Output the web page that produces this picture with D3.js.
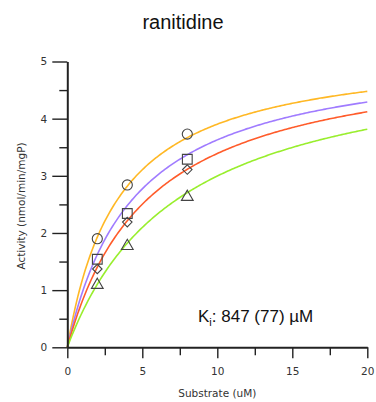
<!DOCTYPE html>
<html>
<head>
<meta charset="utf-8">
<script src="https://cdn.jsdelivr.net/npm/d3@7"></script>
<style>
  html, body { margin: 0; padding: 0; background: #fff; }
  svg { display: block; }
</style>
</head>
<body>
<svg id="chart" width="376" height="402"></svg>
<script>
// Substrate concentrations of the measured points (uM)
const substrate = [2, 4, 8];
// Measured activities, one array per inhibitor level (nmol/min/mgP)
const actCircle  = [1.90, 2.84, 3.73];
const actSquare  = [1.54, 2.34, 3.29];
const actDiamond = [1.37, 2.19, 3.11];
const actTriangle = [1.09, 1.77, 2.63];
// Competitive-inhibition fit
const vmax = 5.25;
const km = 3.45;
const ki = 847;
const ki_se = 77;
const inhibitor = [0, 250, 500, 1000];
const curveColors = ["#ffb825", "#a07cff", "#ff5c2b", "#99ee2e"];
const xTicks = [0, 5, 10, 15, 20];
const yTicks = [0, 1, 2, 3, 4, 5];

const svg = d3.select("#chart");
const x = d3.scaleLinear().domain([0, 20]).range([67.3, 367.3]);
const y = d3.scaleLinear().domain([0, 5]).range([347.3, 61.5]);

// Fitted curves
const sGrid = d3.range(0, 20.0001, 0.1);
const line = d3.line().x(d => x(d[0])).y(d => y(d[1]));
inhibitor.forEach((I, i) => {
  const kapp = km * (1 + I / ki);
  svg.append("path")
    .attr("d", line(sGrid.map(s => [s, vmax * s / (kapp + s)])))
    .attr("fill", "none")
    .attr("stroke", curveColors[i])
    .attr("stroke-width", 1.6);
});

// Axes
const ink = "#222";
const xAxis = svg.append("g").attr("transform", `translate(0,${y(0)})`)
  .call(d3.axisBottom(x).tickValues(xTicks).tickSize(11).tickPadding(9).tickSizeOuter(0));
const xMinor = svg.append("g").attr("transform", `translate(0,${y(0)})`)
  .call(d3.axisBottom(x).tickValues([2.5, 7.5, 12.5, 17.5]).tickSize(8).tickFormat("").tickSizeOuter(0));
const yAxis = svg.append("g").attr("transform", `translate(${x(0)},0)`)
  .call(d3.axisLeft(y).tickValues(yTicks).tickFormat(d3.format("d")).tickSize(15).tickPadding(5).tickSizeOuter(0));
const yMinor = svg.append("g").attr("transform", `translate(${x(0)},0)`)
  .call(d3.axisLeft(y).tickValues([0.5, 1.5, 2.5, 3.5, 4.5]).tickSize(8).tickFormat("").tickSizeOuter(0));

[xAxis, xMinor, yAxis, yMinor].forEach(g => {
  g.select(".domain").attr("stroke", ink).attr("stroke-width", 2);
  g.selectAll(".tick line").attr("stroke", ink).attr("stroke-width", 1.4);
  g.selectAll(".tick text").attr("fill", "#333")
    .style("font-family", "'DejaVu Sans', Verdana, sans-serif").style("font-size", "10.5px");
});
[xMinor, yMinor].forEach(g => g.select(".domain").remove());

// Square diamond: a square turned by 45 degrees
const squareDiamond = {
  draw(ctx, size) {
    const r = Math.sqrt(size / 2);
    ctx.moveTo(0, -r); ctx.lineTo(r, 0); ctx.lineTo(0, r); ctx.lineTo(-r, 0); ctx.closePath();
  }
};

// Data markers
const mk = svg.append("g").attr("fill", "none").attr("stroke", "#444").attr("stroke-width", 1.1);
const sets = [
  [actCircle, d3.symbolCircle, 80],
  [actSquare, d3.symbolSquare, 95],
  [actDiamond, squareDiamond, 45],
  [actTriangle, d3.symbolTriangle, 60]
];
sets.forEach(([vals, type, size]) => {
  mk.selectAll(null).data(vals).join("path")
    .attr("transform", (d, i) => `translate(${x(substrate[i])},${y(d)})`)
    .attr("d", d3.symbol().type(type).size(size));
});

// Titles and labels
svg.append("text").attr("x", 183).attr("y", 29).attr("text-anchor", "middle")
  .style("font-family", "'Liberation Sans', Arial, sans-serif").style("font-size", "20px")
  .attr("fill", "#111").text("ranitidine");

svg.append("text").attr("x", x(10)).attr("y", 397).attr("text-anchor", "middle")
  .style("font-family", "'DejaVu Sans', Verdana, sans-serif").style("font-size", "10.5px")
  .attr("fill", "#333").text("Substrate (uM)");

svg.append("text").attr("transform", "translate(25,206) rotate(-90)").attr("text-anchor", "middle")
  .style("font-family", "'DejaVu Sans', Verdana, sans-serif").style("font-size", "10.5px")
  .attr("fill", "#333").text("Activity (nmol/min/mgP)");

const kt = svg.append("text").attr("x", 198).attr("y", 322)
  .style("font-family", "'Liberation Sans', Arial, sans-serif").style("font-size", "17px")
  .attr("fill", "#111");
kt.append("tspan").text("K");
kt.append("tspan").attr("dy", 4).style("font-size", "11px").text("i");
kt.append("tspan").attr("dy", -4).text(`: ${ki} (${ki_se}) µM`);
</script>
</body>
</html>
